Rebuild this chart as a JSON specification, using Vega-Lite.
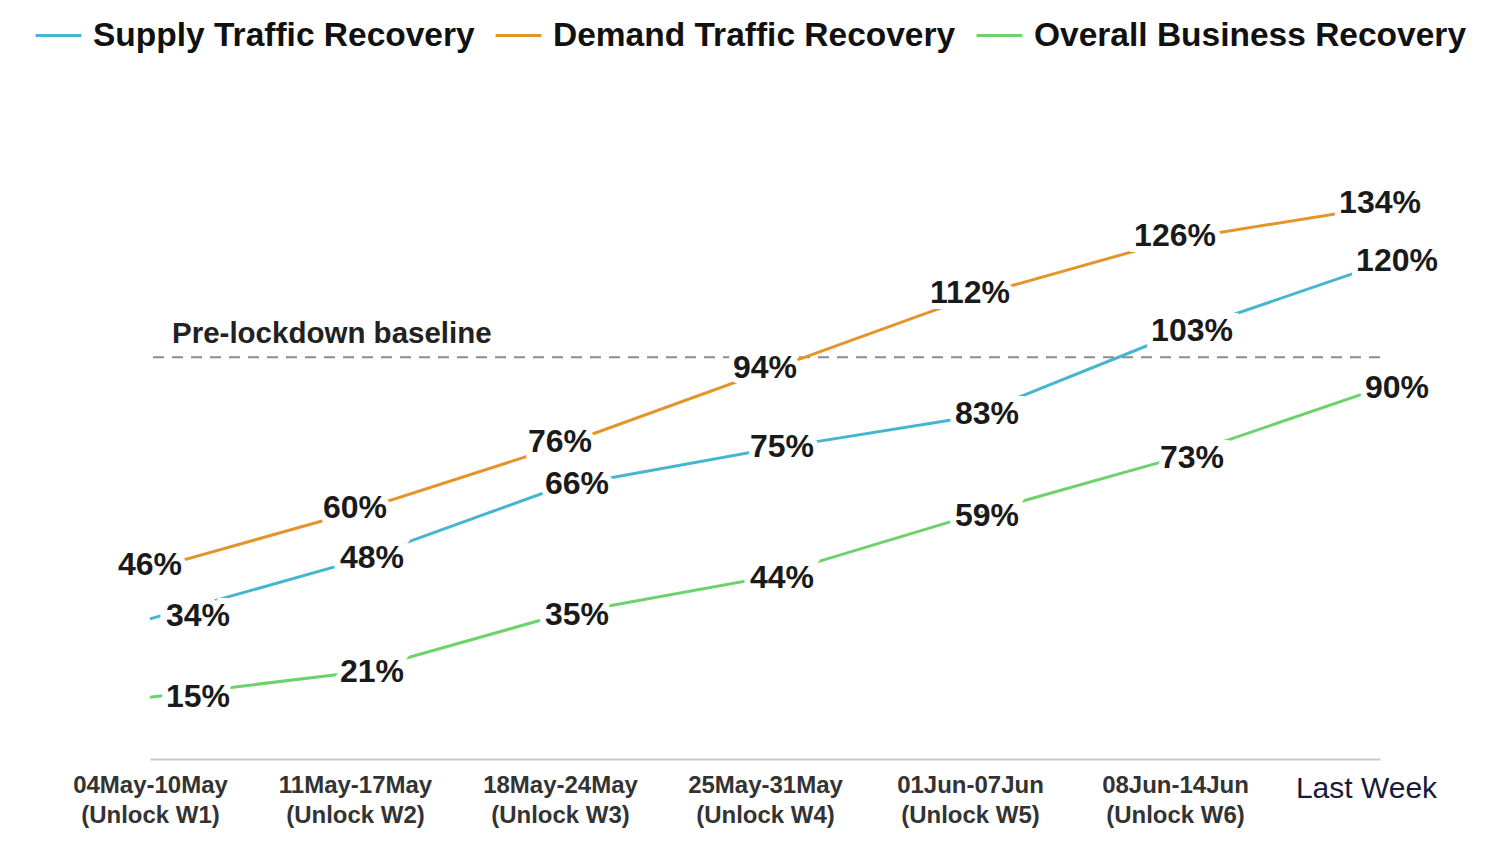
{
  "$schema": "https://vega.github.io/schema/vega-lite/v6.json",
  "width": 1230,
  "height": 577,
  "autosize": {"type": "none"},
  "padding": {"left": 150, "top": 182, "right": 124, "bottom": 97},
  "background": "white",
  "config": {
    "view": {"stroke": null},
    "font": "Liberation Sans"
  },
  "datasets": {
    "recovery": [
      {"week": "04May-10May (Unlock W1)", "series": "Supply Traffic Recovery", "value": 34},
      {"week": "11May-17May (Unlock W2)", "series": "Supply Traffic Recovery", "value": 48},
      {"week": "18May-24May (Unlock W3)", "series": "Supply Traffic Recovery", "value": 66},
      {"week": "25May-31May (Unlock W4)", "series": "Supply Traffic Recovery", "value": 75},
      {"week": "01Jun-07Jun (Unlock W5)", "series": "Supply Traffic Recovery", "value": 83},
      {"week": "08Jun-14Jun (Unlock W6)", "series": "Supply Traffic Recovery", "value": 103},
      {"week": "Last Week", "series": "Supply Traffic Recovery", "value": 120},
      {"week": "04May-10May (Unlock W1)", "series": "Demand Traffic Recovery", "value": 46},
      {"week": "11May-17May (Unlock W2)", "series": "Demand Traffic Recovery", "value": 60},
      {"week": "18May-24May (Unlock W3)", "series": "Demand Traffic Recovery", "value": 76},
      {"week": "25May-31May (Unlock W4)", "series": "Demand Traffic Recovery", "value": 94},
      {"week": "01Jun-07Jun (Unlock W5)", "series": "Demand Traffic Recovery", "value": 112},
      {"week": "08Jun-14Jun (Unlock W6)", "series": "Demand Traffic Recovery", "value": 126},
      {"week": "Last Week", "series": "Demand Traffic Recovery", "value": 134},
      {"week": "04May-10May (Unlock W1)", "series": "Overall Business Recovery", "value": 15},
      {"week": "11May-17May (Unlock W2)", "series": "Overall Business Recovery", "value": 21},
      {"week": "18May-24May (Unlock W3)", "series": "Overall Business Recovery", "value": 35},
      {"week": "25May-31May (Unlock W4)", "series": "Overall Business Recovery", "value": 44},
      {"week": "01Jun-07Jun (Unlock W5)", "series": "Overall Business Recovery", "value": 59},
      {"week": "08Jun-14Jun (Unlock W6)", "series": "Overall Business Recovery", "value": 73},
      {"week": "Last Week", "series": "Overall Business Recovery", "value": 90}
    ]
  },
  "encoding": {
    "x": {
      "field": "week",
      "type": "nominal",
      "sort": null,
      "scale": {"type": "point", "padding": 0},
      "axis": {
        "title": null,
        "labelAngle": 0,
        "ticks": false,
        "grid": false,
        "domainColor": "#c8c8c8",
        "domainWidth": 2,
        "labelFont": "Liberation Sans",
        "labelFontWeight": {"condition": {"test": "datum.value === 'Last Week'", "value": 500}, "value": "bold"},
        "labelFontSize": {"condition": {"test": "datum.value === 'Last Week'", "value": 30}, "value": 24},
        "labelColor": {"condition": {"test": "datum.value === 'Last Week'", "value": "#1a1a3a"}, "value": "#333333"},
        "labelOffset": {"condition": {"test": "datum.value === 'Last Week'", "value": -14}, "value": 0},
        "labelPadding": 14,
        "labelLineHeight": 30,
        "labelBaseline": "top",
        "labelLimit": 300,
        "labelExpr": "indexof(datum.value, ' (') > 0 ? [slice(datum.value, 0, indexof(datum.value, ' (')), slice(datum.value, indexof(datum.value, ' (') + 1)] : datum.value"
      }
    },
    "y": {
      "field": "value",
      "type": "quantitative",
      "scale": {"domain": [0, 140]},
      "axis": null
    }
  },
  "layer": [
    {
      "data": {"values": [{"baseline": 97.5}]},
      "mark": {"type": "rule", "stroke": "#8c8c8c", "strokeWidth": 2, "strokeDash": [11, 8]},
      "encoding": {"y": {"field": "baseline", "type": "quantitative"}, "x": null}
    },
    {
      "data": {"values": [{"note": "Pre-lockdown baseline", "week": "04May-10May (Unlock W1)", "value": 103}]},
      "mark": {"type": "text", "align": "left", "baseline": "middle", "dx": 22, "fontSize": 29.5, "fontWeight": "bold", "color": "#222222", "font": "Liberation Sans"},
      "encoding": {"text": {"field": "note"}}
    },
    {
      "data": {"name": "recovery"},
      "mark": {"type": "line", "strokeWidth": 3},
      "encoding": {
        "color": {
          "field": "series",
          "type": "nominal",
          "scale": {
            "domain": ["Supply Traffic Recovery", "Demand Traffic Recovery", "Overall Business Recovery"],
            "range": ["#46b6d0", "#e3952b", "#6cd26c"]
          },
          "legend": {
            "title": null,
            "orient": "none",
            "direction": "horizontal",
            "legendX": -116,
            "legendY": -171,
            "padding": 0,
            "symbolType": "stroke",
            "symbolSize": 2100,
            "symbolStrokeWidth": 3,
            "labelFont": "Liberation Sans",
            "labelFontSize": 33.5,
            "labelFontWeight": "bold",
            "labelColor": "#111111",
            "labelOffset": 10,
            "labelLimit": 600,
            "columnPadding": 14
          }
        }
      }
    },
    {
      "data": {"name": "recovery"},
      "mark": {
        "type": "text",
        "align": "center",
        "baseline": "middle",
        "fontSize": 32,
        "fontWeight": "bold",
        "font": "Liberation Sans",
        "stroke": "white",
        "strokeWidth": 12,
        "fill": "white",
        "text": {"expr": "datum.value + '%'"},
        "dx": {"expr": "datum.series === 'Demand Traffic Recovery' ? 0 : (datum.week === '04May-10May (Unlock W1)' ? 48 : 17)"},
        "dy": {"expr": "datum.series === 'Demand Traffic Recovery' ? -4 : (datum.series === 'Supply Traffic Recovery' ? -3 : 0)"}
      },
      "encoding": {}
    },
    {
      "data": {"name": "recovery"},
      "mark": {
        "type": "text",
        "align": "center",
        "baseline": "middle",
        "fontSize": 32,
        "fontWeight": "bold",
        "font": "Liberation Sans",
        "fill": "#1a1a1a",
        "text": {"expr": "datum.value + '%'"},
        "dx": {"expr": "datum.series === 'Demand Traffic Recovery' ? 0 : (datum.week === '04May-10May (Unlock W1)' ? 48 : 17)"},
        "dy": {"expr": "datum.series === 'Demand Traffic Recovery' ? -4 : (datum.series === 'Supply Traffic Recovery' ? -3 : 0)"}
      },
      "encoding": {}
    }
  ]
}
